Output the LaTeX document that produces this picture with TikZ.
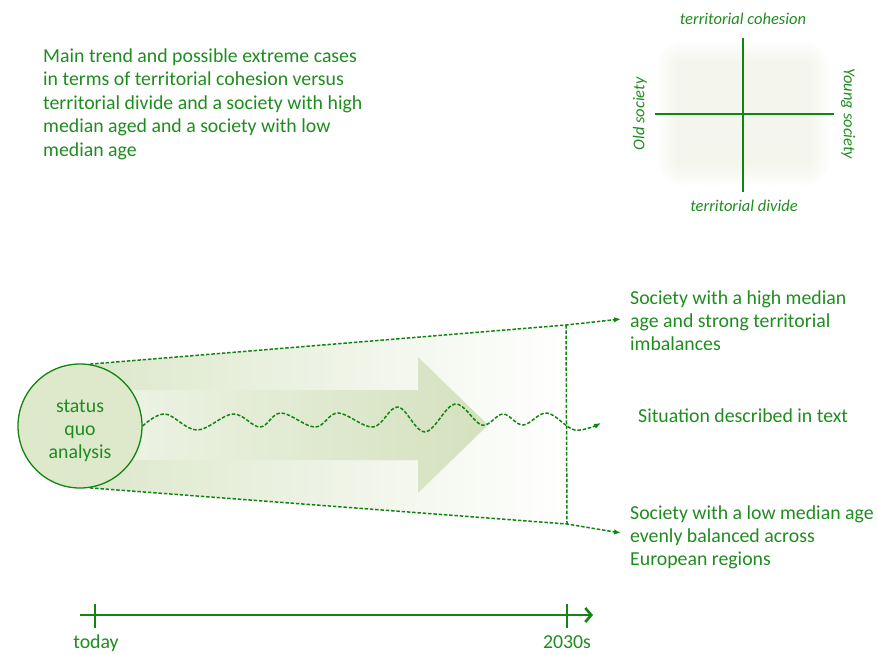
\documentclass[tikz,border=0pt]{standalone}
\usepackage{fontspec}
\setmainfont{Carlito}
\usetikzlibrary{arrows.meta}

\definecolor{txtgreen}{RGB}{30,140,30}
\definecolor{linegreen}{RGB}{18,132,18}
\definecolor{trapfill}{RGB}{220,231,202}
\definecolor{circfill}{RGB}{222,233,204}
\definecolor{arrowL}{RGB}{238,243,229}
\definecolor{arrowR}{RGB}{212,225,190}
\definecolor{quadfill}{RGB}{228,233,212}

\tikzset{
  txt/.style={text=txtgreen, font=\fontsize{19.8}{22.6}\selectfont, align=left, inner sep=0pt},
  axislabel/.style={text=txtgreen, font=\fontsize{16.5}{19}\selectfont\itshape, inner sep=0pt},
  axisline/.style={draw=linegreen, line width=1.4pt},
  dashline/.style={draw=linegreen, line width=1.5pt, dash pattern=on 3.5pt off 1.8pt},
  tip/.style={-{Latex[length=7pt,width=5.5pt]}},
  timeline/.style={draw=linegreen, line width=2.6pt},
}

\begin{document}
\begin{tikzpicture}[x=1pt,y=-1pt]
\useasboundingbox (0,0) rectangle (877,654);

% ---- heading text (anchored at the baseline of its last line) ----
\node[txt, anchor=base west, font=\fontsize{19.8}{23.5}\selectfont] (title) at (43,156)
  {Main trend and possible extreme cases\\
   in terms of territorial cohesion versus\\
   territorial divide and a society with high\\
   median aged and a society with low\\
   median age};

% ---- axes of the scenario space ----
\foreach \i in {0,...,6}
  \fill[quadfill, opacity=0.07, rounded corners={24-3*\i}]
    ({658+3*\i},{42+3*\i}) rectangle ({829-3*\i},{185-3*\i});
\coordinate (vtop) at (743,38);
\coordinate (vbot) at (743,192);
\coordinate (hleft) at (655,114);
\coordinate (hright) at (834,114);
\draw[axisline] (vtop) -- (vbot);
\draw[axisline] (hleft) -- (hright);
\node[axislabel] (coh) at (743,19) {territorial cohesion};
\node[axislabel] (div) at (744,206) {territorial divide};
\node[axislabel, rotate=90] (old) at (640,114) {Old society};
\node[axislabel, rotate=-90] (young) at (848,114) {Young society};

% ---- scenario funnel ----
\coordinate (c0) at (80,426);
\node[circle, minimum size=124pt, inner sep=0pt] (sq) at (c0) {};
\coordinate (tl) at (566,325);
\coordinate (bl) at (567,524);
\coordinate (toptip) at (621,319);
\coordinate (bottip) at (621,533);
\coordinate (waveend) at (601,423);

\shade[left color=trapfill, right color=white] (sq.81) -- (tl) -- (bl) -- (sq.-81) -- (sq.center) -- cycle;
\shade[left color=arrowL, right color=arrowR]
  (112,390) -- (418,390) -- (418,357) -- (488,425) -- (418,493) -- (418,460) -- (112,460) -- cycle;

% circle drawn on top of the shaded band
\node[circle, draw=linegreen, line width=1.3pt, fill=circfill, minimum size=124pt,
      inner sep=0pt] (sqtop) at (c0) {};
\node[text=txtgreen, align=center, font=\fontsize{19.8}{23}\selectfont, inner sep=0pt]
      (sqtext) at (80,431) {status\\quo\\analysis};

\draw[dashline, tip] (sqtop.81) -- (tl) -- (toptip);
\draw[dashline, tip] (sqtop.-81) -- (bl) -- (bottip);
\draw[dashline] (tl) -- (bl);

% path described in the text
\draw[dashline, tip] plot[smooth, tension=0.6] coordinates {
  (sqtop.east) (165,414) (197,430) (233,414) (260,427) (281,413) (315,427)
  (338,413) (373,427) (398,407) (425,432) (455,404) (482,425) (503,414)
  (523,425) (547,413) (575,430) (waveend)};

% ---- outcomes (anchored at the baseline of their last line) ----
\node[txt, anchor=base west] (high) at (630,350)
  {Society with a high median\\age and strong territorial\\imbalances};
\node[txt, anchor=base west] (mid) at (638,422) {Situation described in text};
\node[txt, anchor=base west] (low) at (630,565)
  {Society with a low median age\\evenly balanced across\\European regions};

% ---- time axis ----
\coordinate (tstart) at (80,615);
\coordinate (tend) at (593,615);
\draw[timeline, -{Straight Barb[length=6pt,width=14pt]}] (tstart) -- (tend);
\coordinate (today) at (95,615);
\coordinate (later) at (567,615);
\draw[timeline, line width=2.2pt] ([yshift=11pt]today) -- ([yshift=-13pt]today);
\draw[timeline, line width=2.2pt] ([yshift=11pt]later) -- ([yshift=-13pt]later);
\node[txt, anchor=base] (todaylbl) at (96,648) {today};
\node[txt, anchor=base] (laterlbl) at (567,648) {2030s};
\end{tikzpicture}
\end{document}
